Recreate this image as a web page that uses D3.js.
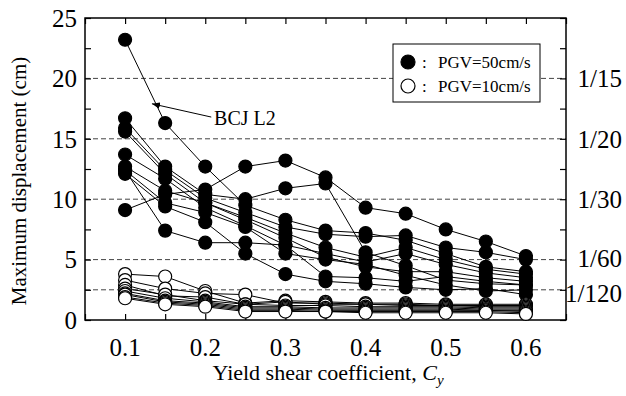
<!DOCTYPE html>
<html>
<head>
<meta charset="utf-8">
<script src="https://cdn.jsdelivr.net/npm/d3@7"></script>
<style>
  body { margin: 0; background: #fff; }
  svg text { font-family: "Liberation Serif", "DejaVu Serif", serif; }
</style>
</head>
<body>
<div class="graphic"></div>
<script>
// yield shear coefficients (x)
const cyValues = [0.1, 0.15, 0.2, 0.25, 0.3, 0.35, 0.4, 0.45, 0.5, 0.55, 0.6];

// PGV = 50 cm/s, max displacement (cm), one array per building model
const pgv50 = [
  [23.2, 16.3, 12.7, 9.5, 8.3, 7.4, 7.2, 6.6, 5.5, 4.4, 4.0],
  [9.1, 10.4, 10.8, 12.7, 13.2, 11.8, 9.3, 8.8, 7.5, 6.5, 5.3],
  [16.7, 12.7, 10.4, 10.0, 10.9, 11.3, 5.6, 4.5, 3.3, 3.0, 2.9],
  [15.9, 12.4, 10.1, 8.9, 7.7, 7.1, 6.9, 7.0, 6.0, 5.6, 5.0],
  [15.6, 12.1, 9.7, 8.5, 7.2, 6.0, 5.2, 6.0, 5.0, 4.2, 3.8],
  [13.7, 11.7, 9.3, 7.8, 6.2, 5.5, 4.8, 5.5, 4.6, 3.9, 3.5],
  [12.7, 10.7, 9.7, 8.3, 6.8, 5.2, 4.4, 4.0, 4.0, 3.5, 3.2],
  [12.4, 9.7, 8.9, 7.7, 5.5, 5.0, 4.6, 3.7, 2.9, 2.4, 2.5],
  [12.1, 9.4, 8.1, 5.5, 3.8, 3.2, 3.0, 2.7, 2.5, 2.6, 2.1],
  [12.4, 7.4, 6.4, 6.4, 6.2, 3.6, 3.5, 3.2, 3.6, 3.2, 2.9]
];

// PGV = 10 cm/s
const pgv10 = [
  [3.8, 3.6, 2.4, 1.4, 1.6, 1.5, 1.4, 1.4, 1.3, 1.3, 1.3],
  [3.3, 2.6, 2.2, 2.1, 1.4, 1.4, 1.3, 1.3, 1.2, 1.2, 1.2],
  [2.9, 2.0, 1.9, 1.3, 1.5, 1.3, 1.3, 1.2, 1.2, 1.1, 1.1],
  [2.6, 2.1, 1.6, 1.3, 1.2, 1.2, 1.1, 1.1, 1.1, 1.0, 1.0],
  [2.4, 1.8, 1.5, 1.1, 1.1, 1.0, 1.0, 1.0, 1.0, 0.9, 0.9],
  [2.2, 1.6, 1.4, 1.0, 1.0, 0.9, 0.9, 0.9, 0.9, 0.8, 0.8],
  [2.1, 1.5, 1.3, 0.9, 0.9, 0.8, 0.8, 0.8, 0.8, 0.8, 0.7],
  [1.9, 1.4, 1.2, 0.8, 0.8, 0.7, 0.7, 0.7, 0.7, 0.7, 0.6],
  [1.8, 1.3, 1.1, 0.7, 0.7, 0.7, 0.6, 0.6, 0.6, 0.6, 0.5]
];

// drift limits drawn as dashed lines
const driftLevels = [20, 15, 10, 5, 2.5];
const driftLabels = ['1/15', '1/20', '1/30', '1/60', '1/120'];

const xTickLabels = [0.1, 0.2, 0.3, 0.4, 0.5, 0.6];
const yTickLabels = [0, 5, 10, 15, 20, 25];

const width = 626, height = 396;
const margin = {top: 18, right: 60, bottom: 76, left: 85};

const svg = d3.select('.graphic')
  .append('svg')
  .attr('width', width)
  .attr('height', height);

const x = d3.scaleLinear()
  .domain([0.05, 0.65])
  .range([margin.left, width - margin.right]);

const y = d3.scaleLinear()
  .domain([0, 25])
  .range([height - margin.bottom, margin.top]);

const minorX = d3.range(0.05, 0.651, 0.05);
const minorY = d3.range(0, 25.01, 2.5);

// dashed drift lines
svg.selectAll('.drift')
  .data(driftLevels)
  .enter().append('line')
  .attr('class', 'drift')
  .attr('x1', x(0.05))
  .attr('x2', x(0.65))
  .attr('y1', d => y(d))
  .attr('y2', d => y(d))
  .style('stroke', '#444')
  .style('stroke-width', 1)
  .style('stroke-dasharray', '5,3');

svg.selectAll('.driftLabel')
  .data(driftLevels)
  .enter().append('text')
  .attr('class', 'driftLabel')
  .attr('x', 622)
  .attr('y', (d, i) => y(d) + (i === 3 ? -1 : (i === 4 ? 3 : 0)))
  .attr('dy', '0.35em')
  .attr('text-anchor', 'end')
  .style('font-size', '25px')
  .text((d, i) => driftLabels[i]);

// axes with inward ticks
const tickLen = 6;
svg.append('g')
  .attr('transform', 'translate(0,' + y(0) + ')')
  .call(d3.axisBottom(x).tickValues(minorX).tickSize(-tickLen).tickFormat(''))
  .call(g => g.select('.domain').remove());
svg.append('g')
  .attr('transform', 'translate(0,' + y(25) + ')')
  .call(d3.axisTop(x).tickValues(minorX).tickSize(-tickLen).tickFormat(''))
  .call(g => g.select('.domain').remove());
svg.append('g')
  .attr('transform', 'translate(' + x(0.05) + ',0)')
  .call(d3.axisLeft(y).tickValues(minorY).tickSize(-tickLen).tickFormat(''))
  .call(g => g.select('.domain').remove());
svg.append('g')
  .attr('transform', 'translate(' + x(0.65) + ',0)')
  .call(d3.axisRight(y).tickValues(minorY).tickSize(-tickLen).tickFormat(''))
  .call(g => g.select('.domain').remove());

svg.selectAll('.tick line').style('stroke', '#000').style('stroke-width', 1.2);

svg.append('rect')
  .attr('x', x(0.05))
  .attr('y', y(25))
  .attr('width', x(0.65) - x(0.05))
  .attr('height', y(0) - y(25))
  .style('fill', 'none')
  .style('stroke', '#000')
  .style('stroke-width', 1.5);

// tick labels
svg.selectAll('.xLabel')
  .data(xTickLabels)
  .enter().append('text')
  .attr('x', d => x(d))
  .attr('y', y(0) + 36)
  .attr('text-anchor', 'middle')
  .style('font-size', '25px')
  .text(d => d.toFixed(1));

svg.selectAll('.yLabel')
  .data(yTickLabels)
  .enter().append('text')
  .attr('x', x(0.05) - 8)
  .attr('y', d => y(d))
  .attr('dy', '0.35em')
  .attr('text-anchor', 'end')
  .style('font-size', '25px')
  .text(d => d);

// axis titles
const xTitle = svg.append('text')
  .attr('x', 328)
  .attr('y', 380)
  .attr('text-anchor', 'middle')
  .style('font-size', '22px');
xTitle.append('tspan').text('Yield shear coefficient, ');
xTitle.append('tspan').style('font-style', 'italic').text('C');
xTitle.append('tspan').style('font-style', 'italic').style('font-size', '15px').attr('dy', 5).text('y');

svg.append('text')
  .attr('transform', 'translate(26,' + ((y(0) + y(25)) / 2 + 12) + ') rotate(-90)')
  .attr('text-anchor', 'middle')
  .style('font-size', '21px')
  .text('Maximum displacement (cm)');

// series
const line = d3.line()
  .x((d, i) => x(cyValues[i]))
  .y(d => y(d));

function drawSeries(data, filled, cls) {
  svg.selectAll('.' + cls + 'Line')
    .data(data)
    .enter().append('path')
    .attr('d', line)
    .style('fill', 'none')
    .style('stroke', '#000')
    .style('stroke-width', 1);

  data.forEach(series => {
    svg.append('g').selectAll('circle')
      .data(series)
      .enter().append('circle')
      .attr('cx', (d, i) => x(cyValues[i]))
      .attr('cy', d => y(d))
      .attr('r', 6.5)
      .style('fill', filled ? '#000' : '#fff')
      .style('stroke', '#000')
      .style('stroke-width', 1.2);
  });
}

drawSeries(pgv50, true, 'p50');
drawSeries(pgv10, false, 'p10');

// BCJ L2 annotation with arrow
svg.append('defs').append('marker')
  .attr('id', 'arrow')
  .attr('viewBox', '0 0 10 10')
  .attr('refX', 10)
  .attr('refY', 5)
  .attr('markerWidth', 8)
  .attr('markerHeight', 8)
  .attr('orient', 'auto')
  .append('path')
  .attr('d', 'M0,1 L10,5 L0,9 Z')
  .style('fill', '#000');

const arrowTip = [0.1335, 17.9];
svg.append('line')
  .attr('x1', x(0.2075))
  .attr('y1', y(16.8))
  .attr('x2', x(arrowTip[0]))
  .attr('y2', y(arrowTip[1]))
  .style('stroke', '#000')
  .style('stroke-width', 1)
  .attr('marker-end', 'url(#arrow)');

svg.append('text')
  .attr('x', x(0.211))
  .attr('y', y(16.7))
  .attr('dy', '0.35em')
  .style('font-size', '20px')
  .text('BCJ L2');

// legend
const legend = svg.append('g').attr('class', 'legend');
legend.append('rect')
  .attr('x', 393)
  .attr('y', 44)
  .attr('width', 147)
  .attr('height', 58)
  .style('fill', '#fff')
  .style('stroke', '#000')
  .style('stroke-width', 1);

const legendItems = [
  {label: 'PGV=50cm/s', filled: true},
  {label: 'PGV=10cm/s', filled: false}
];
legendItems.forEach((item, i) => {
  const ly = 62 + i * 24;
  legend.append('circle')
    .attr('cx', 408)
    .attr('cy', ly)
    .attr('r', 7)
    .style('fill', item.filled ? '#000' : '#fff')
    .style('stroke', '#000')
    .style('stroke-width', 1.2);
  legend.append('text')
    .attr('x', 422)
    .attr('y', ly)
    .attr('dy', '0.35em')
    .style('font-size', '17px')
    .text(':');
  legend.append('text')
    .attr('x', 438)
    .attr('y', ly)
    .attr('dy', '0.35em')
    .style('font-size', '17px')
    .text(item.label);
});
</script>
</body>
</html>
